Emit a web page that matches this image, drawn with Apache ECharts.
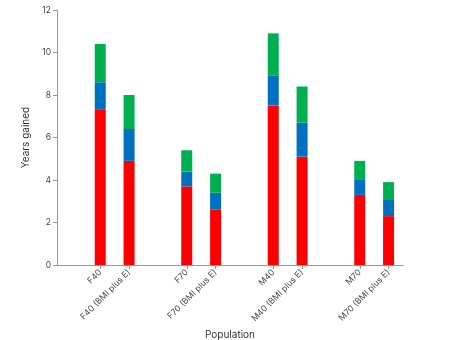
<!DOCTYPE html>
<html>
<head>
<meta charset="utf-8">
<script src="https://cdn.jsdelivr.net/npm/echarts@6/dist/echarts.min.js"></script>
<style>
html,body{margin:0;padding:0;background:#fff;}
#chart{width:468px;height:340px;}
</style>
</head>
<body>
<div id="chart"></div>
<script>
// Categories (blank entries are spacer slots between groups)
var categories = ['', 'F40', 'F40 (BMI plus E)', ' ', 'F70', 'F70 (BMI plus E)', '  ', 'M40', 'M40 (BMI plus E)', '   ', 'M70', 'M70 (BMI plus E)'];
// Stacked segments (years gained)
var redValues   = [null, 7.3, 4.9, null, 3.7, 2.6, null, 7.5, 5.1, null, 3.3, 2.3];
var blueValues  = [null, 1.3, 1.5, null, 0.7, 0.8, null, 1.4, 1.6, null, 0.7, 0.8];
var greenValues = [null, 1.8, 1.6, null, 1.0, 0.9, null, 2.0, 1.7, null, 0.9, 0.8];
var yTicks = [0, 2, 4, 6, 8, 10, 12];

var isReal = function (idx) { return categories[idx].trim() !== ''; };

var chart = echarts.init(document.getElementById('chart'), null, {renderer: 'canvas'});
var fontFam = 'Inter, "Noto Sans", Arial, sans-serif';
function seg(name, data, color) {
  return {
    name: name, type: 'bar', stack: 'total', data: data, barWidth: 11,
    itemStyle: {color: color}, silent: true, animation: false
  };
}
chart.setOption({
  animation: false,
  grid: {left: 57, right: 65, top: 10, bottom: 75, containLabel: false, outerBoundsMode: 'none'},
  xAxis: {
    type: 'category',
    data: categories,
    name: 'Population',
    nameLocation: 'middle',
    nameGap: 60,
    nameTextStyle: {color: '#333', fontSize: 10, fontFamily: fontFam},
    axisLine: {lineStyle: {color: '#999', width: 1}},
    axisTick: {show: true, alignWithLabel: true, length: 4, lineStyle: {color: '#999'},
      interval: function (idx) { return isReal(idx); }},
    axisLabel: {rotate: 45, fontSize: 8.5, color: '#444', fontFamily: fontFam, margin: 6,
      interval: function (idx) { return isReal(idx); }}
  },
  yAxis: {
    type: 'value',
    min: yTicks[0], max: yTicks[yTicks.length - 1], interval: 2,
    name: 'Years gained',
    nameLocation: 'middle',
    nameGap: 22,
    nameTextStyle: {color: '#333', fontSize: 10, fontFamily: fontFam},
    axisLine: {show: true, lineStyle: {color: '#999', width: 1}},
    axisTick: {show: true, length: 4, lineStyle: {color: '#999'}},
    splitLine: {show: false},
    axisLabel: {fontSize: 8.5, color: '#444', fontFamily: fontFam, margin: 6}
  },
  series: [
    seg('Red', redValues, '#ff0000'),
    seg('Blue', blueValues, '#0070c0'),
    seg('Green', greenValues, '#00b050')
  ]
});
</script>
</body>
</html>
